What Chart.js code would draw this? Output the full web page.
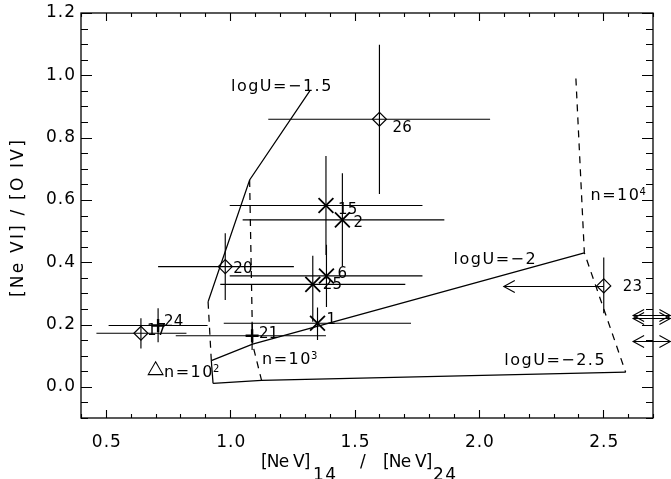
<!DOCTYPE html>
<html>
<head>
<meta charset="utf-8">
<script src="https://cdn.jsdelivr.net/npm/chart.js@4.4.1/dist/chart.umd.min.js"></script>
<style>
  html, body { margin: 0; padding: 0; background: #fff; }
  canvas { display: block; }
</style>
</head>
<body>
<canvas id="c" width="671" height="479"></canvas>
<script>
// ---------- measured line ratios ----------
// open diamonds
const diaIds  = ['26', '20', '17', '23'];
const diaX    = [1.600, 0.980, 0.641, 2.502];
const diaY    = [0.859, 0.386, 0.172, 0.324];
const diaXLo  = [1.153, 0.710, 0.462, null];
const diaXHi  = [2.045, 1.256, 0.824, null];
const diaYLo  = [0.619, 0.279, 0.123, 0.236];
const diaYHi  = [1.098, 0.493, 0.220, 0.415];
const diaXLim = [null, null, null, 2.100];   // upper limit on x (arrow)

// asterisks
const astIds  = ['15', '2', '6', '25', '1'];
const astX    = [1.385, 1.451, 1.387, 1.332, 1.351];
const astY    = [0.582, 0.536, 0.356, 0.329, 0.204];
const astXLo  = [0.998, 1.050, 0.998, 0.960, 0.974];
const astXHi  = [1.773, 1.861, 1.773, 1.704, 1.727];
const astYLo  = [0.423, 0.386, 0.256, 0.209, 0.150];
const astYHi  = [0.741, 0.686, 0.456, 0.421, 0.255];

// crosses
const crsIds  = ['21', '24'];
const crsX    = [1.088, 0.710];
const crsY    = [0.164, 0.197];
const crsXLo  = [0.781, 0.511];
const crsXHi  = [1.385, 0.909];
const crsYLo  = [0.118, 0.143];
const crsYHi  = [0.209, 0.252];

// triangle
const triX = [0.700];
const triY = [0.053];

// sources whose x ratio runs past the right axis
const offY     = [0.232, 0.220, 0.148];
const offXFrom = [2.62, 2.62, 2.62];
const offXTo   = [2.77, 2.77, 2.77];

// photoionization grid: constant ionization parameter
const logUm15X = [0.911, 1.078, 1.320];
const logUm15Y = [0.273, 0.664, 0.950];
const logUm20X = [0.924, 1.090, 2.424];
const logUm20Y = [0.084, 0.137, 0.430];
const logUm25X = [0.931, 1.126, 2.590];
const logUm25Y = [0.011, 0.021, 0.047];
// photoionization grid: constant density
const n1e2X = [0.911, 0.924, 0.931];
const n1e2Y = [0.273, 0.084, 0.011];
const n1e3X = [1.078, 1.090, 1.126];
const n1e3Y = [0.664, 0.137, 0.021];
const n1e4X = [2.390, 2.424, 2.590];
const n1e4Y = [0.990, 0.430, 0.047];

// axis tick labels
const xTickLabels = ['0.5', '1.0', '1.5', '2.0', '2.5'];
const yTickLabels = ['0.0', '0.2', '0.4', '0.6', '0.8', '1.0', '1.2'];

// ---------- helpers ----------
const pts = (xs, ys) => xs.map((x, i) => ({ x, y: ys[i] }));

function errorSegments(xs, ys, xlo, xhi, ylo, yhi) {
  const out = [];
  xs.forEach((x, i) => {
    if (xlo[i] != null) out.push({ x: xlo[i], y: ys[i] }, { x: xhi[i], y: ys[i] }, { x: xhi[i], y: null });
    if (ylo[i] != null) out.push({ x, y: ylo[i] }, { x, y: yhi[i] }, { x, y: null });
  });
  return out;
}

const INK = '#000';
const FONT = '"DejaVu Sans", "Liberation Sans", sans-serif';

function gridLine(xs, ys, dashed) {
  return {
    type: 'line', data: pts(xs, ys), borderColor: INK, borderWidth: 1.25,
    borderDash: dashed ? [7, 6] : [], pointRadius: 0, fill: false, tension: 0
  };
}

const errData = [
  ...errorSegments(diaX, diaY, diaXLo, diaXHi, diaYLo, diaYHi),
  ...errorSegments(astX, astY, astXLo, astXHi, astYLo, astYHi),
  ...errorSegments(crsX, crsY, crsXLo, crsXHi, crsYLo, crsYHi)
];

// label placement next to each marker (pixels: left edge, vertical centre)
const labelOffset = {
  '26': [13, 9], '15': [12, 5], '2': [11, 3], '6': [11, -2], '25': [10, 1], '1': [9, -3],
  '20': [8, 3], '21': [7, -2], '17': [6, -2], '24': [6, -3], '23': [19, 1]
};

// grid annotations, anchored in data units (left edge, baseline)
const gridNotes = [
  { text: 'logU=\u22121.5', x: 1.003, y: 0.950 },
  { text: 'logU=\u22122',   x: 1.898, y: 0.394 },
  { text: 'logU=\u22122.5', x: 2.102, y: 0.070 },
  { text: 'n=10', sup: '3', x: 1.128, y: 0.073 },
  { text: 'n=10', sup: '2', x: 0.734, y: 0.033 },
  { text: 'n=10', sup: '4', x: 2.449, y: 0.600 }
];

function drawText(ctx, s, x, y, size, align, base, spacing) {
  ctx.font = size + 'px ' + FONT;
  ctx.letterSpacing = (spacing || 0) + 'px';
  ctx.textAlign = align;
  ctx.textBaseline = base;
  ctx.fillText(s, x, y);
}

function arrowHead(ctx, tipX, tipY, dir) {
  const L = 11, H = 6;
  ctx.beginPath();
  ctx.moveTo(tipX - dir * L, tipY - H);
  ctx.lineTo(tipX, tipY);
  ctx.lineTo(tipX - dir * L, tipY + H);
  ctx.stroke();
}

const framePlugin = {
  id: 'frame',
  afterDatasetsDraw(chart) {
    const { ctx, chartArea: a, scales: { x, y } } = chart;
    ctx.save();
    ctx.strokeStyle = INK;
    ctx.fillStyle = INK;

    // axis box
    ctx.lineWidth = 1.3;
    ctx.strokeRect(a.left, a.top, a.right - a.left, a.bottom - a.top);

    // inward ticks on all four sides
    ctx.lineWidth = 1.1;
    ctx.beginPath();
    for (let i = 4; i <= 27; i++) {
      const px = Math.round(x.getPixelForValue(i / 10)) + 0.5;
      const len = i % 5 === 0 ? 8 : 4;
      ctx.moveTo(px, a.bottom); ctx.lineTo(px, a.bottom - len);
      ctx.moveTo(px, a.top);    ctx.lineTo(px, a.top + len);
    }
    for (let i = -2; i <= 24; i++) {
      const py = Math.round(y.getPixelForValue(i * 0.05)) + 0.5;
      const len = i % 4 === 0 ? 11 : 7;
      ctx.moveTo(a.left, py);  ctx.lineTo(a.left + len, py);
      ctx.moveTo(a.right, py); ctx.lineTo(a.right - len, py);
    }
    ctx.stroke();

    // tick labels
    xTickLabels.forEach(l => drawText(ctx, l, x.getPixelForValue(parseFloat(l)) + 1, a.bottom + 25, 17, 'center', 'middle', 1));
    yTickLabels.forEach(l => drawText(ctx, l, a.left - 5, y.getPixelForValue(parseFloat(l)), 17, 'right', 'middle', 1));

    // x title with subscripts
    const cx = (a.left + a.right) / 2;
    drawText(ctx, '[Ne V]', cx - 106, a.bottom + 49, 17, 'left', 'alphabetic', -0.8);
    drawText(ctx, '14',     cx - 54,  a.bottom + 62, 17, 'left', 'alphabetic', 1.5);
    drawText(ctx, '/',      cx - 7,   a.bottom + 49, 17, 'left', 'alphabetic', 0);
    drawText(ctx, '[Ne V]', cx + 16,  a.bottom + 49, 17, 'left', 'alphabetic', -0.8);
    drawText(ctx, '24',     cx + 66,  a.bottom + 62, 17, 'left', 'alphabetic', 1.5);

    // y title
    ctx.save();
    ctx.translate(19, (a.top + a.bottom) / 2 + 2);
    ctx.rotate(-Math.PI / 2);
    drawText(ctx, '[Ne VI] / [O IV]', 0, 0, 17, 'center', 'middle', 2.2);
    ctx.restore();

    // source labels
    const labelSet = (ids, xs, ys) => ids.forEach((id, i) => {
      const o = labelOffset[id] || [8, 0];
      drawText(ctx, id, x.getPixelForValue(xs[i]) + o[0], y.getPixelForValue(ys[i]) + o[1], 15, 'left', 'middle', 0.2);
    });
    labelSet(diaIds, diaX, diaY);
    labelSet(astIds, astX, astY);
    labelSet(crsIds, crsX, crsY);

    // grid annotations
    gridNotes.forEach(n => {
      const px = x.getPixelForValue(n.x), py = y.getPixelForValue(n.y);
      drawText(ctx, n.text, px, py, 16, 'left', 'alphabetic', 1.5);
      if (n.sup) {
        ctx.font = '16px ' + FONT;
        ctx.letterSpacing = '1.5px';
        const w = ctx.measureText(n.text).width;
        drawText(ctx, n.sup, px + w - 1, py - 5, 10, 'left', 'alphabetic', 0);
      }
    });

    // upper limits in x
    ctx.lineWidth = 1.1;
    diaXLim.forEach((lim, i) => {
      if (lim == null) return;
      const x0 = x.getPixelForValue(diaX[i]), x1 = x.getPixelForValue(lim);
      const py = Math.round(y.getPixelForValue(diaY[i])) + 0.5;
      ctx.beginPath(); ctx.moveTo(x0, py); ctx.lineTo(x1, py); ctx.stroke();
      arrowHead(ctx, x1, py, -1);
    });

    // off-scale sources: double arrows at the right edge
    offY.forEach((v, i) => {
      const py = Math.round(y.getPixelForValue(v)) + 0.5;
      const x0 = x.getPixelForValue(offXFrom[i]), x1 = x.getPixelForValue(offXTo[i]);
      ctx.beginPath(); ctx.moveTo(x0, py); ctx.lineTo(x1, py); ctx.stroke();
      arrowHead(ctx, x0, py, -1);
      arrowHead(ctx, x1, py, 1);
    });

    ctx.restore();
  }
};

new Chart(document.getElementById('c'), {
  type: 'scatter',
  data: {
    datasets: [
      { label: 'diamonds', data: pts(diaX, diaY), pointStyle: 'rectRot', pointRadius: 7,
        borderColor: INK, backgroundColor: 'rgba(0,0,0,0)', borderWidth: 1.2 },
      { label: 'asterisks', data: pts(astX, astY), pointStyle: 'crossRot', pointRadius: 10.5,
        borderColor: INK, backgroundColor: INK, borderWidth: 1.8 },
      { label: 'crosses', data: pts(crsX, crsY), pointStyle: 'cross', pointRadius: 6.5,
        borderColor: INK, backgroundColor: INK, borderWidth: 2.4 },
      { label: 'triangle', data: pts(triX, triY), pointStyle: 'triangle', pointRadius: 8.5,
        borderColor: INK, backgroundColor: 'rgba(0,0,0,0)', borderWidth: 1.1 },
      { type: 'line', label: 'errors', data: errData, borderColor: INK, borderWidth: 1.15,
        pointRadius: 0, spanGaps: false, fill: false },
      gridLine(logUm15X, logUm15Y, false),
      gridLine(logUm20X, logUm20Y, false),
      gridLine(logUm25X, logUm25Y, false),
      Object.assign(gridLine(n1e2X, n1e2Y, true), {
        segment: { borderDash: c => (c.p0DataIndex === 0 ? [7, 6] : []) }
      }),
      gridLine(n1e3X, n1e3Y, true),
      gridLine(n1e4X, n1e4Y, true)
    ]
  },
  options: {
    responsive: false,
    animation: false,
    events: [],
    layout: { padding: { left: 81, top: 13, right: 18, bottom: 61 } },
    scales: {
      x: { type: 'linear', min: 0.4, max: 2.7, display: false },
      y: { type: 'linear', min: -0.1, max: 1.2, display: false }
    },
    plugins: { legend: { display: false }, tooltip: { enabled: false } }
  },
  plugins: [framePlugin]
});
</script>
</body>
</html>
